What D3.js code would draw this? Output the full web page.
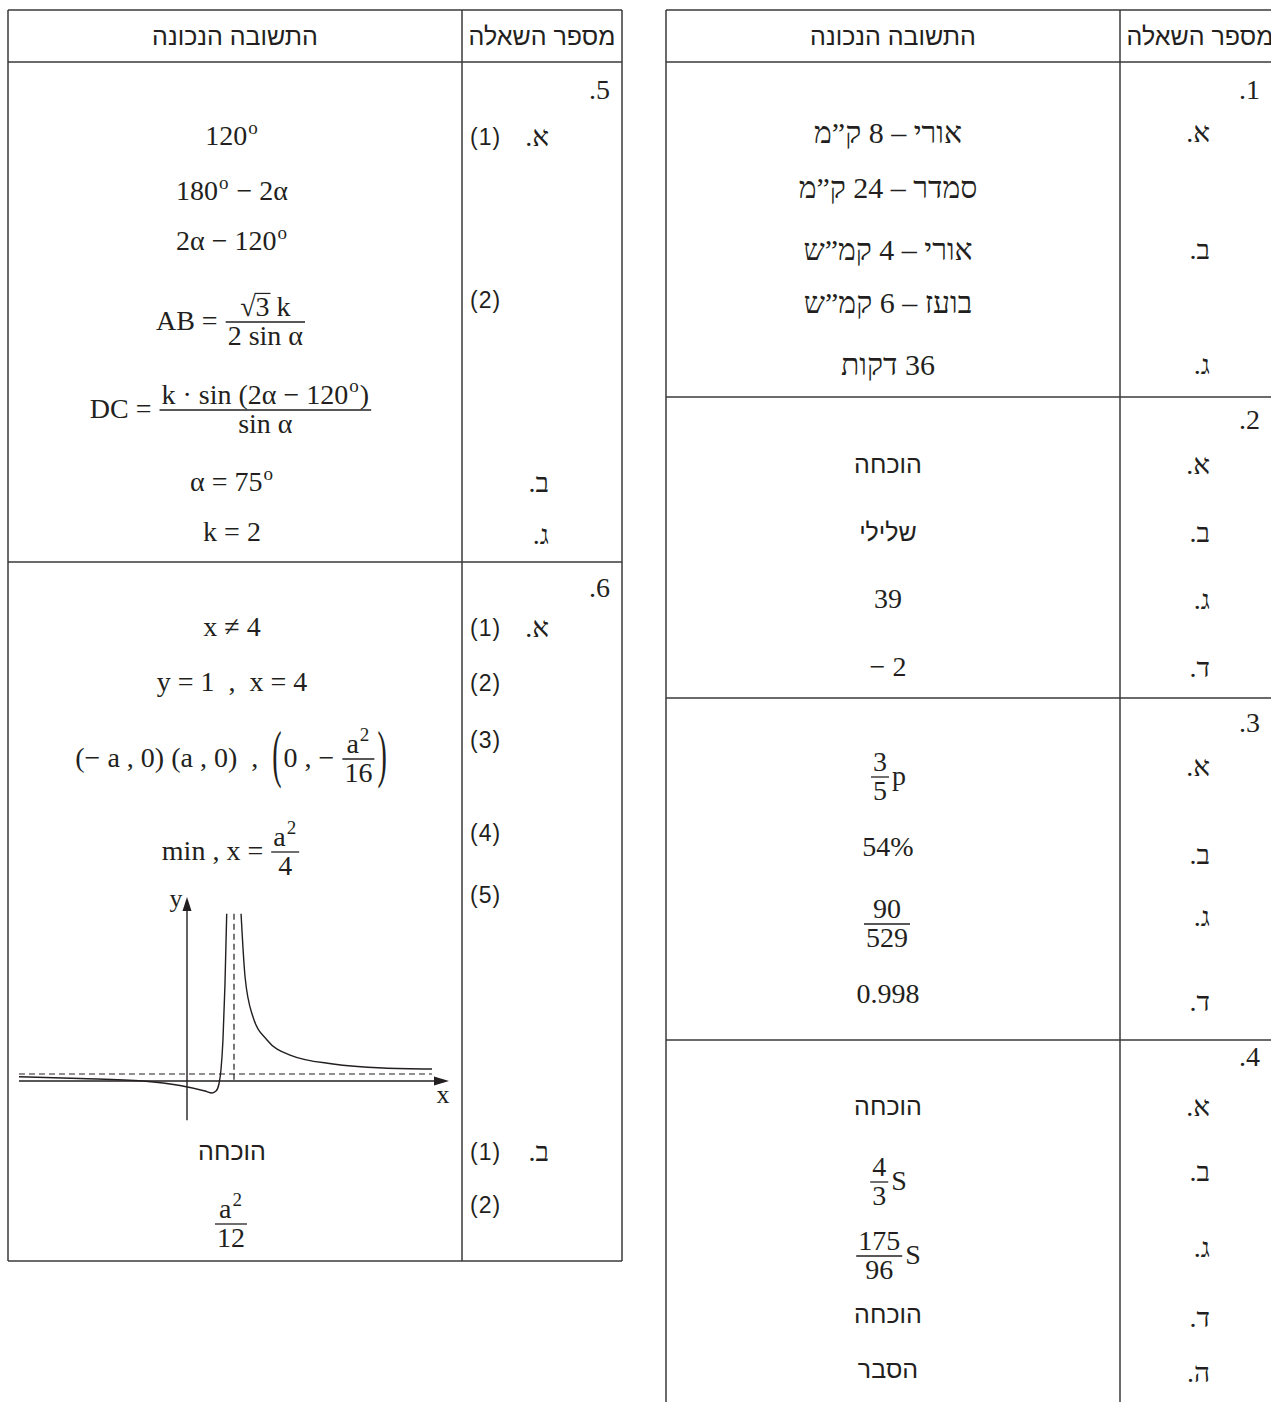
<!DOCTYPE html>
<meta charset="utf-8">
<style>
body { margin: 0; background: #fff; }
svg text { fill: #231f20; }
.serif { font-family: "Liberation Serif", "Times New Roman", serif; }
.sans { font-family: "Liberation Sans", "DejaVu Sans", sans-serif; }
.rule { stroke: #3a3a3a; stroke-width: 1.5; }
.curve { fill: none; stroke: #231f20; stroke-width: 1.4; }
.dash { fill: none; stroke: #231f20; stroke-width: 1.2; stroke-dasharray: 6,4; }
</style>
<body>
<div id="chart"></div>
<script src="https://d3js.org/d3.v7.min.js"></script>
<script>

// ---------------- data ----------------
var headers = ["התשובה הנכונה", "מספר השאלה"];

// right table: questions 1-4, left table: questions 5-6
var questionsRight = [".1", ".2", ".3", ".4"];
var questionsLeft  = [".5", ".6"];

// each line: [part letter, sub item, answer]
var answers1 = [
  ["א", null, {heb: "אורי – 8 ק”מ"}],
  [null, null, {heb: "סמדר – 24 ק”מ"}],
  ["ב", null, {heb: "אורי – 4 קמ”ש"}],
  [null, null, {heb: "בועז – 6 קמ”ש"}],
  ["ג", null, {heb: "36 דקות"}]
];
var answers2 = [
  ["א", null, {sans: "הוכחה"}],
  ["ב", null, {sans: "שלילי"}],
  ["ג", null, {math: ["39"]}],
  ["ד", null, {math: ["− 2"]}]
];
var answers3 = [
  ["א", null, {math: [{frac: [["3"], ["5"]]}, "p"]}],
  ["ב", null, {math: ["54%"]}],
  ["ג", null, {math: [{frac: [["90"], ["529"]]}]}],
  ["ד", null, {math: ["0.998"]}]
];
var answers4 = [
  ["א", null, {sans: "הוכחה"}],
  ["ב", null, {math: [{frac: [["4"], ["3"]]}, "S"]}],
  ["ג", null, {math: [{frac: [["175"], ["96"]]}, "S"]}],
  ["ד", null, {sans: "הוכחה"}],
  ["ה", null, {sans: "הסבר"}]
];
var answers5 = [
  ["א", "(1)", {math: ["120", {sup: "o"}]}],
  [null, null, {math: ["180", {sup: "o"}, " − 2α"]}],
  [null, null, {math: ["2α − 120", {sup: "o"}]}],
  [null, "(2)", {math: ["AB = ", {frac: [[{sqrt: "3"}, " k"], ["2 sin α"]]}]}],
  [null, null, {math: ["DC = ", {frac: [["k · sin (2α − 120", {sup: "o"}, ")"], ["sin α"]]}]}],
  ["ב", null, {math: ["α = 75", {sup: "o"}]}],
  ["ג", null, {math: ["k = 2"]}]
];
var answers6 = [
  ["א", "(1)", {math: ["x ≠ 4"]}],
  [null, "(2)", {math: ["y = 1  ,  x = 4"]}],
  [null, "(3)", {math: ["(− a , 0) (a , 0)  ,  ", {paren: "("}, "0 , − ", {frac: [["a", {sup: "2"}], ["16"]]}, {paren: ")"}]}],
  [null, "(4)", {math: ["min , x = ", {frac: [["a", {sup: "2"}], ["4"]]}]}],
  [null, "(5)", {graph: true}],
  ["ב", "(1)", {sans: "הוכחה"}],
  [null, "(2)", {math: [{frac: [["a", {sup: "2"}], ["12"]]}]}]
];

// sketch of the function in 6 (5) in graph units
var xAxisExtent = [-14.3, 22.3];
var yAxisExtent = [-5.6, 26.3];
var asymptoteY = 1,  asymptoteYSpan = [-14.3, 20.85];
var asymptoteX = 4,  asymptoteXSpan = [0, 23.9];
var branchLeft = [
  [-14.3, 0.61], [-9.1, 0.36], [-3.74, 0], [-0.6, -0.64], [1.53, -1.43],
  [2.13, -1.71], [2.47, -1.43], [2.72, -0.43], [2.89, 1.57], [3.06, 5.86],
  [3.23, 13.7], [3.38, 23.9]
];
var branchRight = [
  [4.6, 23.9], [4.94, 14.9], [5.62, 9.14], [6.81, 5.86], [8.77, 3.71],
  [12.43, 2.43], [16.68, 1.86], [20.85, 1.71]
];

// ---------------- layout ----------------
var W = 1271, H = 1402;
var mathSize = 28, hebSize = 30, sansSize = 25, headSize = 25, subSize = 23;

var layoutLeft = {
  x0: 8, div: 462, x1: 622, ansC: 232, numR: 610, letR: 549, subL: 470,
  top: 10, head: 62, bottom: 1261,
  rows: [[62, 562], [562, 1261]],
  numY: [90, 588],
  lineY:  [[137, 192, 242, 322, 410, 483, 533], [628, 683, 759, 852, 0, 1152, 1224]],
  labelY: [[137, 192, 242, 300, 410, 483, 535], [628, 683, 740, 833, 895, 1152, 1205]]
};
var layoutRight = {
  x0: 666, div: 1120, x1: 1280, ansC: 888, numR: 1260, letR: 1210, subL: 1128,
  top: 10, head: 62, bottom: H,
  rows: [[62, 397], [397, 698], [698, 1040], [1040, H + 60]],
  numY: [90, 420, 723, 1057],
  lineY:  [[133, 188, 250, 303, 365], [465, 533, 600, 668], [777, 848, 924, 995], [1107, 1182, 1256, 1315, 1370]],
  labelY: [[133, 188, 250, 303, 365], [465, 533, 600, 668], [767, 855, 917, 1002], [1107, 1172, 1248, 1318, 1373]]
};

var svg = d3.select("#chart").append("svg")
    .attr("width", W)
    .attr("height", H);

function addText(g, str, x, y, cls, size) {
  return g.append("text")
      .attr("class", cls)
      .attr("x", x)
      .attr("y", y)
      .style("font-size", size + "px")
      .style("white-space", "pre")
      .text(str);
}

//////////////// tiny math typesetter ////////////////
function layoutTokens(g, tokens, x, axis, size) {
  tokens.forEach(function(tk) { x = layoutToken(g, tk, x, axis, size); });
  return x;
}

function layoutToken(g, tk, x, axis, size) {
  var base = axis + size * 0.3;
  if (typeof tk === "string") {
    var t = addText(g, tk, x, base, "serif", size);
    return x + t.node().getComputedTextLength();
  }
  if (tk.sup) {
    var s = addText(g, tk.sup, x + 1, base - size * 0.42, "serif", size * 0.68);
    return x + 1 + s.node().getComputedTextLength() + 1;
  }
  if (tk.sqrt) {
    var r = addText(g, "√", x, base, "serif", size);
    var rw = r.node().getComputedTextLength();
    var d = addText(g, tk.sqrt, x + rw, base, "serif", size);
    var dw = d.node().getComputedTextLength();
    g.append("line")
        .attr("x1", x + rw - 1).attr("x2", x + rw + dw + 1)
        .attr("y1", base - size * 0.8).attr("y2", base - size * 0.8)
        .attr("stroke", "#231f20").attr("stroke-width", 1.2);
    return x + rw + dw;
  }
  if (tk.paren) {
    var p = g.append("text")
        .attr("class", "serif")
        .style("font-size", size + "px")
        .attr("transform", "translate(" + x + "," + axis + ") scale(1,2.25)")
        .attr("y", size * 0.26)
        .text(tk.paren);
    return x + p.node().getComputedTextLength() + 2;
  }
  if (tk.frac) {
    var ng = g.append("g"), dg = g.append("g");
    var nw = layoutTokens(ng, tk.frac[0], 0, 0, size);
    var dwid = layoutTokens(dg, tk.frac[1], 0, 0, size);
    var w = Math.max(nw, dwid) + 6;
    ng.attr("transform", "translate(" + (x + (w - nw) / 2) + "," + (axis - size * 0.52) + ")");
    dg.attr("transform", "translate(" + (x + (w - dwid) / 2) + "," + (axis + size * 0.52) + ")");
    g.append("line")
        .attr("x1", x + 1).attr("x2", x + w - 1)
        .attr("y1", axis).attr("y2", axis)
        .attr("stroke", "#231f20").attr("stroke-width", 1.3);
    return x + w + 2;
  }
  return x;
}

function mathRow(tokens, cx, y) {
  var g = svg.append("g").attr("class", "math");
  var w = layoutTokens(g, tokens, 0, 0, mathSize);
  g.attr("transform", "translate(" + (cx - w / 2) + "," + y + ")");
}

//////////////// graph for 6 (5) ////////////////
function drawGraph() {
  var gx = d3.scaleLinear().domain([0, 4]).range([187, 234]);
  var gy = d3.scaleLinear().domain([0, 1]).range([1081, 1074]);
  var g = svg.append("g").attr("class", "graph");

  var line = d3.line()
      .curve(d3.curveMonotoneX)
      .x(d => gx(d[0]))
      .y(d => gy(d[1]));

  // axes
  g.append("line").attr("class", "curve")
      .attr("x1", gx(xAxisExtent[0])).attr("x2", gx(xAxisExtent[1]) - 8)
      .attr("y1", gy(0)).attr("y2", gy(0));
  g.append("line").attr("class", "curve")
      .attr("x1", gx(0)).attr("x2", gx(0))
      .attr("y1", gy(yAxisExtent[0])).attr("y2", gy(yAxisExtent[1]) + 8);

  var xt = [gx(xAxisExtent[1]), gy(0)];
  g.append("path")
      .attr("d", "M" + xt[0] + "," + xt[1] + "L" + (xt[0] - 15) + "," + (xt[1] - 4.5) + "L" + (xt[0] - 15) + "," + (xt[1] + 4.5) + "Z")
      .attr("fill", "#231f20");
  var yt = [gx(0), gy(yAxisExtent[1])];
  g.append("path")
      .attr("d", "M" + yt[0] + "," + yt[1] + "L" + (yt[0] - 4.5) + "," + (yt[1] + 14) + "L" + (yt[0] + 4.5) + "," + (yt[1] + 14) + "Z")
      .attr("fill", "#231f20");

  // asymptotes
  g.append("line").attr("class", "dash")
      .attr("x1", gx(asymptoteYSpan[0])).attr("x2", gx(asymptoteYSpan[1]))
      .attr("y1", gy(asymptoteY)).attr("y2", gy(asymptoteY));
  g.append("line").attr("class", "dash")
      .attr("x1", gx(asymptoteX)).attr("x2", gx(asymptoteX))
      .attr("y1", gy(asymptoteXSpan[1])).attr("y2", gy(asymptoteXSpan[0]));

  // the two branches
  g.append("path").datum(branchLeft).attr("class", "curve").attr("d", line);
  g.append("path").datum(branchRight).attr("class", "curve").attr("d", line);

  addText(g, "y", gx(0) - 11, gy(yAxisExtent[1]) + 10, "serif", 26).attr("text-anchor", "middle");
  addText(g, "x", gx(xAxisExtent[1]) - 6, gy(0) + 22, "serif", 26).attr("text-anchor", "middle");
}

//////////////// tables ////////////////
function drawTable(lay, nums, answerSets) {
  var g = svg.append("g").attr("class", "table");

  var hs = [lay.top, lay.head].concat(lay.rows.map(r => r[1])).filter(y => y < H);
  g.selectAll(".hrule").data(hs).enter().append("line")
      .attr("class", "rule hrule")
      .attr("x1", lay.x0).attr("x2", lay.x1)
      .attr("y1", d => d).attr("y2", d => d);

  g.selectAll(".vrule").data([lay.x0, lay.div, lay.x1]).enter().append("line")
      .attr("class", "rule vrule")
      .attr("x1", d => d).attr("x2", d => d)
      .attr("y1", lay.top).attr("y2", lay.bottom);

  // headers
  addText(g, headers[0], (lay.x0 + lay.div) / 2, (lay.top + lay.head) / 2 + 9, "sans", headSize)
      .attr("text-anchor", "middle").attr("direction", "rtl");
  addText(g, headers[1], (lay.div + lay.x1) / 2, (lay.top + lay.head) / 2 + 9, "sans", headSize)
      .attr("text-anchor", "middle").attr("direction", "rtl");

  nums.forEach(function(n, i) {
    addText(g, n, lay.numR, lay.numY[i] + 9, "serif", mathSize).attr("text-anchor", "end");

    answerSets[i].forEach(function(row, j) {
      var ly = lay.labelY[i][j], y = lay.lineY[i][j];
      if (row[0]) addText(g, "." + row[0], lay.letR, ly + 9, "serif", hebSize - 2).attr("text-anchor", "end");
      if (row[1]) addText(g, row[1], lay.subL, ly + 8, "sans", subSize).style("letter-spacing", "1px");

      var a = row[2];
      if (a.heb) {
        addText(g, a.heb, lay.ansC, y + 10, "serif", hebSize)
            .attr("text-anchor", "middle").attr("direction", "rtl");
      } else if (a.sans) {
        addText(g, a.sans, lay.ansC, y + 8, "sans", sansSize)
            .attr("text-anchor", "middle").attr("direction", "rtl");
      } else if (a.math) {
        mathRow(a.math, lay.ansC, y);
      } else if (a.graph) {
        drawGraph();
      }
    });
  });
}

drawTable(layoutLeft, questionsLeft, [answers5, answers6]);
drawTable(layoutRight, questionsRight, [answers1, answers2, answers3, answers4]);

</script>
